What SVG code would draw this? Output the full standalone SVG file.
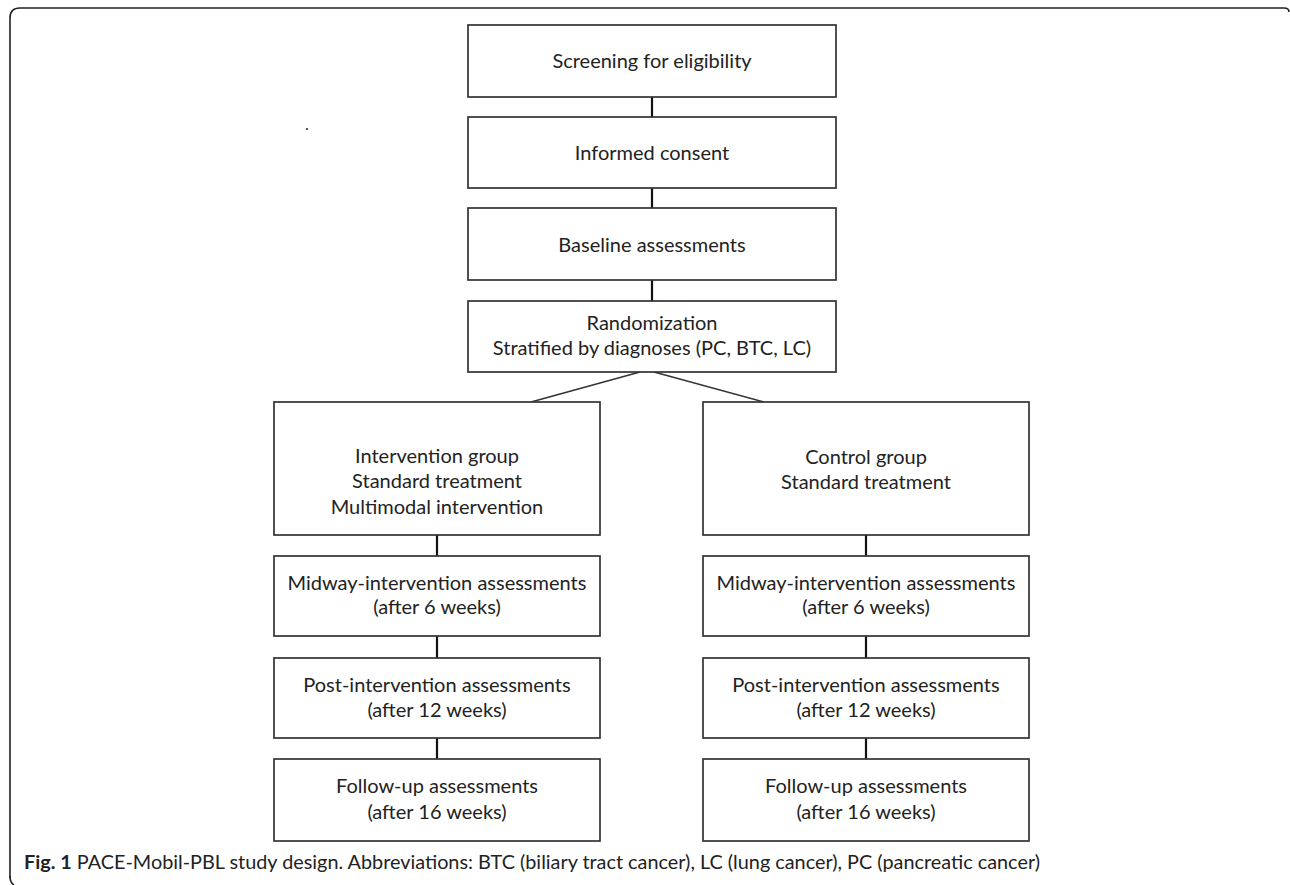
<svg xmlns="http://www.w3.org/2000/svg" width="1290" height="885" viewBox="0 0 1290 885">
<style>
.box{fill:#fff;stroke:#333;stroke-width:1.7}
.t{font-family:Lato,"Open Sans",sans-serif;font-size:20px;fill:#222;text-anchor:middle}
.c{stroke:#111;stroke-width:2.2;fill:none}
.d{stroke:#333;stroke-width:1.4;fill:none}
.cap{font-family:Lato,"Liberation Sans",sans-serif;font-size:19px;fill:#222}
</style>
<rect width="1290" height="885" fill="#fff"/>
<path d="M10,878 V18 Q10,8 20,8 H1284 Q1289,8 1289,12" fill="none" stroke="#222" stroke-width="1.6"/>
<path d="M10,876 Q10,883 14,885" fill="none" stroke="#222" stroke-width="1.6"/>
<circle cx="307" cy="129" r="1.1" fill="#333"/>
<g id="connectors">
<line class="c" x1="652" y1="97" x2="652" y2="117"/>
<line class="c" x1="652" y1="188" x2="652" y2="208"/>
<line class="c" x1="652" y1="280" x2="652" y2="301"/>
<line class="d" x1="640" y1="372" x2="531" y2="402"/>
<line class="d" x1="654" y1="372" x2="764" y2="402"/>
<line class="c" x1="437" y1="535" x2="437" y2="556"/>
<line class="c" x1="437" y1="636" x2="437" y2="658"/>
<line class="c" x1="437" y1="738" x2="437" y2="759"/>
<line class="c" x1="866" y1="535" x2="866" y2="556"/>
<line class="c" x1="866" y1="636" x2="866" y2="658"/>
<line class="c" x1="866" y1="738" x2="866" y2="759"/>
</g>
<g id="screening"><rect class="box" x="468" y="25" width="368" height="72"/><text class="t" x="652" y="68">Screening for eligibility</text></g>
<g id="consent"><rect class="box" x="468" y="117" width="368" height="71"/><text class="t" x="652" y="160">Informed  consent</text></g>
<g id="baseline"><rect class="box" x="468" y="208" width="368" height="72"/><text class="t" x="652" y="252">Baseline assessments</text></g>
<g id="randomization"><rect class="box" x="468" y="301" width="368" height="71"/><text class="t" x="652" y="330">Randomization</text><text class="t" x="652" y="355">Stratified by diagnoses (PC, BTC, LC)</text></g>
<g id="intervention"><rect class="box" x="274" y="402" width="326" height="133"/><text class="t" x="437" y="463">Intervention  group</text><text class="t" x="437" y="488">Standard  treatment</text><text class="t" x="437" y="514">Multimodal  intervention</text></g>
<g id="control"><rect class="box" x="703" y="402" width="326" height="133"/><text class="t" x="866" y="464">Control  group</text><text class="t" x="866" y="489">Standard  treatment</text></g>
<g id="midway-left"><rect class="box" x="274" y="556" width="326" height="80"/><text class="t" x="437" y="590">Midway-intervention  assessments</text><text class="t" x="437" y="614">(after 6 weeks)</text></g>
<g id="midway-right"><rect class="box" x="703" y="556" width="326" height="80"/><text class="t" x="866" y="590">Midway-intervention  assessments</text><text class="t" x="866" y="614">(after 6 weeks)</text></g>
<g id="post-left"><rect class="box" x="274" y="658" width="326" height="80"/><text class="t" x="437" y="692">Post-intervention assessments</text><text class="t" x="437" y="717">(after 12 weeks)</text></g>
<g id="post-right"><rect class="box" x="703" y="658" width="326" height="80"/><text class="t" x="866" y="692">Post-intervention assessments</text><text class="t" x="866" y="717">(after 12 weeks)</text></g>
<g id="follow-left"><rect class="box" x="274" y="759" width="326" height="82"/><text class="t" x="437" y="793">Follow-up assessments</text><text class="t" x="437" y="819">(after 16 weeks)</text></g>
<g id="follow-right"><rect class="box" x="703" y="759" width="326" height="82"/><text class="t" x="866" y="793">Follow-up assessments</text><text class="t" x="866" y="819">(after 16 weeks)</text></g>
<text class="cap" x="24" y="869" textLength="1016" lengthAdjust="spacingAndGlyphs"><tspan font-weight="bold">Fig. 1</tspan> PACE-Mobil-PBL study design. Abbreviations: BTC (biliary tract cancer), LC (lung cancer), PC (pancreatic cancer)</text>
</svg>
